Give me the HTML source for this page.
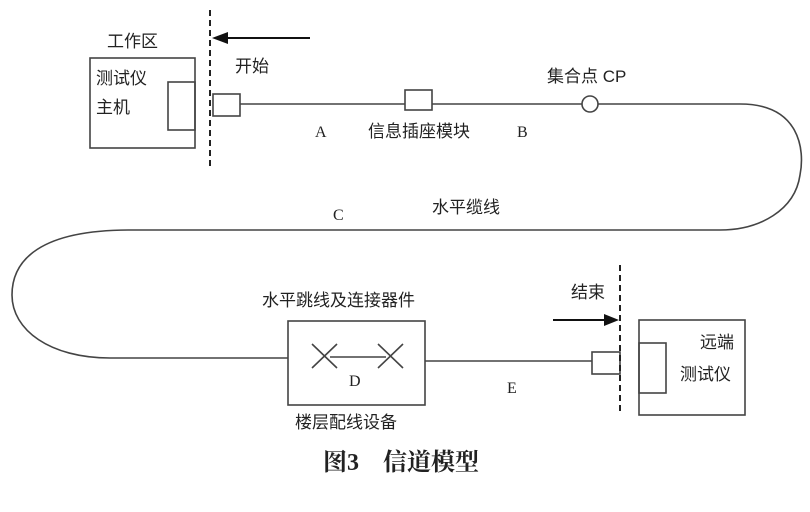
<!DOCTYPE html>
<html><head><meta charset="utf-8"><style>
body{margin:0;background:#fff;width:810px;height:507px;overflow:hidden}
svg text{font-family:"Liberation Sans","Noto Sans CJK SC",sans-serif;fill:#222}
svg text.s{font-family:"Liberation Serif",serif;font-size:16px}
</style></head><body>
<svg width="810" height="507" viewBox="0 0 810 507" xmlns="http://www.w3.org/2000/svg">
<g stroke="#444" stroke-width="1.6" fill="none">
<rect x="90" y="58" width="105" height="90"/>
<rect x="168" y="82" width="27" height="48"/>
<line x1="210" y1="10" x2="210" y2="170" stroke-dasharray="6,4" stroke="#222" stroke-width="2"/>
<rect x="213" y="94" width="27" height="22"/>
<line x1="240" y1="104" x2="405" y2="104"/>
<rect x="405" y="90" width="27" height="20"/>
<line x1="432" y1="104" x2="582" y2="104"/>
<circle cx="590" cy="104" r="8"/>
<path d="M598 104 L740 104 C800 104 805 150 800 175 C795 210 760 230 720 230 L130 230 C40 230 12 260 12 295 C12 330 50 358 110 358 L288 358"/>
<rect x="288" y="321" width="137" height="84"/>
<line x1="312" y1="344" x2="337" y2="368"/><line x1="337" y1="344" x2="312" y2="368"/>
<line x1="378" y1="344" x2="403" y2="368"/><line x1="403" y1="344" x2="378" y2="368"/>
<line x1="330" y1="357" x2="386" y2="357"/>
<line x1="425" y1="361" x2="592" y2="361"/>
<rect x="592" y="352" width="28" height="22"/>
<line x1="620" y1="265" x2="620" y2="415" stroke-dasharray="6,4" stroke="#222" stroke-width="2"/>
<rect x="639" y="320" width="106" height="95"/>
<rect x="639" y="343" width="27" height="50"/>
<line x1="225" y1="38" x2="310" y2="38" stroke="#111" stroke-width="2"/>
<line x1="553" y1="320" x2="606" y2="320" stroke="#111" stroke-width="2"/>
</g>
<polygon points="212,38 228,32 228,44" fill="#111"/>
<polygon points="619,320 604,314 604,326" fill="#111"/>
<g font-size="17">
<text x="107" y="47">工作区</text>
<text x="96" y="84">测试仪</text>
<text x="96" y="113">主机</text>
<text x="235" y="72">开始</text>
<text x="315" y="137" class="s">A</text>
<text x="368" y="137">信息插座模块</text>
<text x="517" y="137" class="s">B</text>
<text x="547" y="82">集合点 CP</text>
<text x="432" y="213">水平缆线</text>
<text x="333" y="220" class="s">C</text>
<text x="262" y="306">水平跳线及连接器件</text>
<text x="349" y="386" class="s">D</text>
<text x="295" y="428">楼层配线设备</text>
<text x="507" y="393" class="s">E</text>
<text x="571" y="298">结束</text>
<text x="700" y="348">远端</text>
<text x="680" y="380">测试仪</text>
</g>
<text x="323" y="470" font-size="24" font-weight="bold" style="font-family:'Liberation Serif','Noto Serif CJK SC',serif" fill="#000">图3　信道模型</text>
</svg>
</body></html>
